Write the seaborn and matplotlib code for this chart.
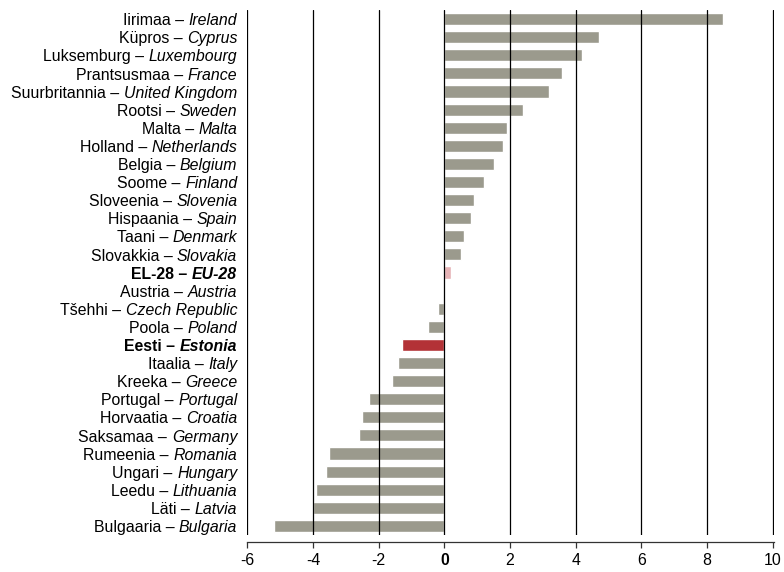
import numpy as np
import pandas as pd
import matplotlib
matplotlib.use("Agg")
import matplotlib.pyplot as plt
import seaborn as sns
from matplotlib.offsetbox import TextArea, HPacker, AnnotationBbox

# country names (Estonian / English) and values, top to bottom
names_et = ["Iirimaa", "Küpros", "Luksemburg", "Prantsusmaa", "Suurbritannia",
            "Rootsi", "Malta", "Holland", "Belgia", "Soome", "Sloveenia",
            "Hispaania", "Taani", "Slovakkia", "EL-28", "Austria", "Tšehhi",
            "Poola", "Eesti", "Itaalia", "Kreeka", "Portugal", "Horvaatia",
            "Saksamaa", "Rumeenia", "Ungari", "Leedu", "Läti", "Bulgaaria"]
names_en = ["Ireland", "Cyprus", "Luxembourg", "France", "United Kingdom",
            "Sweden", "Malta", "Netherlands", "Belgium", "Finland", "Slovenia",
            "Spain", "Denmark", "Slovakia", "EU-28", "Austria", "Czech Republic",
            "Poland", "Estonia", "Italy", "Greece", "Portugal", "Croatia",
            "Germany", "Romania", "Hungary", "Lithuania", "Latvia", "Bulgaria"]
values = [8.5, 4.7, 4.2, 3.6, 3.2, 2.4, 1.9, 1.8, 1.5, 1.2, 0.9, 0.8, 0.6, 0.5,
          0.2, 0.0, -0.2, -0.5, -1.3, -1.4, -1.6, -2.3, -2.5, -2.6, -3.5, -3.6,
          -3.9, -4.0, -5.2]
highlight = {"EU-28": "#E6B3B6", "Estonia": "#B33236"}
x_ticks = [-6, -4, -2, 0, 2, 4, 6, 8, 10]

GREY = "#9B9A8D"
FONT = "Liberation Sans"
FS = 11.4

df = pd.DataFrame({"et": names_et, "en": names_en, "value": values})
df["key"] = df["et"] + " – " + df["en"]
palette = {k: highlight.get(en, GREY) for k, en in zip(df["key"], df["en"])}

sns.set_style("white")
plt.rcParams["font.family"] = [FONT, "DejaVu Sans"]
plt.rcParams["text.color"] = "black"
plt.rcParams["xtick.color"] = "black"
plt.rcParams["xtick.labelcolor"] = "black"

fig = plt.figure(figsize=(7.84, 5.72), dpi=100)
ax = fig.add_axes([0.3154, 0.0647, 0.6713, 0.9178])

sns.barplot(data=df, x="value", y="key", hue="key", palette=palette,
            legend=False, orient="h", width=0.67, saturation=1, ax=ax)

# a hair past 10 so the last gridline is not clipped
ax.set_xlim(-6, 10.03)
ax.set_ylim(len(df) - 0.5, -0.5)

# vertical gridlines drawn on top of the bars
ax.set_axisbelow(False)
ax.xaxis.grid(True, color="black", linewidth=0.9)
ax.yaxis.grid(False)

for side in ["left", "right", "top"]:
    ax.spines[side].set_visible(False)
ax.spines["bottom"].set_position(("outward", 5))
ax.spines["bottom"].set_color("#333333")
ax.spines["bottom"].set_linewidth(0.9)
ax.tick_params(axis="x", bottom=True, direction="out", length=4, width=0.9,
               color="#333333", pad=4, labelsize=FS, labelcolor="black")
ax.tick_params(axis="y", left=False, labelleft=False)
ax.set_xlabel("")
ax.set_ylabel("")

ax.set_xticks(x_ticks)
ax.set_xticklabels([str(t) for t in x_ticks])
for lbl, t in zip(ax.get_xticklabels(), x_ticks):
    lbl.set_fontsize(FS)
    if t == 0:
        lbl.set_fontweight("bold")

# two-style labels: Estonian upright, English italic
for i, (et, en) in enumerate(zip(names_et, names_en)):
    weight = "bold" if en in highlight else "normal"
    t1 = TextArea(et + " –", textprops=dict(fontsize=FS, fontweight=weight,
                                             fontfamily=FONT, color="black"))
    t2 = TextArea(en, textprops=dict(fontsize=FS, fontweight=weight,
                                      fontstyle="italic", fontfamily=FONT,
                                      color="black"))
    box = HPacker(children=[t1, t2], sep=3.2, pad=0, align="baseline")
    ab = AnnotationBbox(box, (0, i), xycoords=ax.get_yaxis_transform(),
                        xybox=(-7.2, -1.2), boxcoords="offset points",
                        box_alignment=(1, 0.5), frameon=False, pad=0,
                        annotation_clip=False)
    ax.add_artist(ab)

fig.savefig("out.png", dpi=100)
